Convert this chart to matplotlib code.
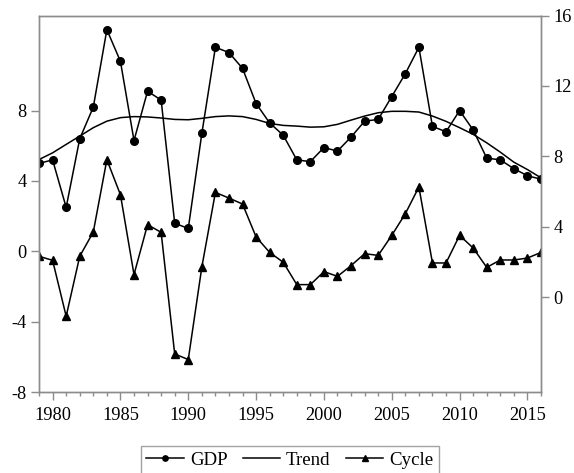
import numpy as np
import matplotlib
matplotlib.use('Agg')
import matplotlib.pyplot as plt
from matplotlib.ticker import MultipleLocator

plt.rcParams['font.family'] = ['Liberation Serif', 'DejaVu Serif']
plt.rcParams['axes.unicode_minus'] = False

years = list(range(1979, 2017))

# GDP 增长率 (右轴)
gdp = [7.6, 7.8, 5.1, 9.0, 10.8, 15.2, 13.4, 8.9, 11.7, 11.2,
       4.2, 3.9, 9.3, 14.2, 13.9, 13.0, 11.0, 9.9, 9.2, 7.8,
       7.7, 8.5, 8.3, 9.1, 10.0, 10.1, 11.4, 12.7, 14.2, 9.7,
       9.4, 10.6, 9.5, 7.9, 7.8, 7.3, 6.9, 6.7]

# HP 滤波趋势 (右轴)
trend = [7.82, 8.20, 8.68, 9.15, 9.63, 10.00, 10.20, 10.26, 10.24, 10.18,
         10.10, 10.08, 10.16, 10.26, 10.30, 10.26, 10.10, 9.87, 9.76, 9.72,
         9.66, 9.68, 9.82, 10.06, 10.29, 10.48, 10.56, 10.56, 10.52, 10.29,
         9.99, 9.63, 9.25, 8.77, 8.24, 7.67, 7.25, 6.78]

# 周期成分 (左轴)
cycle = [-0.28, -0.51, -3.69, -0.28, 1.10, 5.21, 3.22, -1.32, 1.52, 1.08,
         -5.83, -6.15, -0.89, 3.35, 3.03, 2.69, 0.82, -0.06, -0.62, -1.89,
         -1.89, -1.15, -1.42, -0.81, -0.13, -0.23, 0.91, 2.14, 3.66, -0.66,
         -0.66, 0.91, 0.19, -0.91, -0.49, -0.49, -0.38, -0.06]

grey = '#8c8c8c'

fig = plt.figure(figsize=(5.74, 4.73), dpi=100)
ax = fig.add_axes([0.068, 0.171, 0.8745, 0.796])
ax2 = ax.twinx()

l3, = ax.plot(years, cycle, color='black', lw=1.1, marker='^', ms=6, label='Cycle')
l1, = ax2.plot(years, gdp, color='black', lw=1.1, marker='o', ms=5.5, label='GDP')
l2, = ax2.plot(years, trend, color='black', lw=1.1, label='Trend')

ax.set_xlim(1979, 2016)
ax.set_ylim(-8, 13.4)
ax2.set_ylim(-5.4, 16)
ax.set_yticks([-8, -4, 0, 4, 8])
ax2.set_yticks([0, 4, 8, 12, 16])
ax.xaxis.set_major_locator(MultipleLocator(5))
ax.xaxis.set_minor_locator(MultipleLocator(1))

for a in (ax, ax2):
    for s in a.spines.values():
        s.set_color(grey)
        s.set_linewidth(1.0)
    a.tick_params(which='major', length=6, width=1.0, color=grey, labelsize=13.2, pad=3)
    a.tick_params(which='minor', length=3, width=1.0, color=grey)
ax.tick_params(axis='x', pad=5)

leg = fig.legend([l1, l2, l3], ['GDP', 'Trend', 'Cycle'], loc='upper center',
                 bbox_to_anchor=(0.505, 0.057), bbox_transform=fig.transFigure,
                 ncol=3, fontsize=13.6, frameon=True, fancybox=False,
                 edgecolor=grey, handlelength=2.0, handletextpad=0.3,
                 columnspacing=0.8, borderpad=0.3, borderaxespad=0,
                 markerscale=0.7)
leg.get_frame().set_linewidth(1.0)

fig.savefig('out.png', dpi=100)
